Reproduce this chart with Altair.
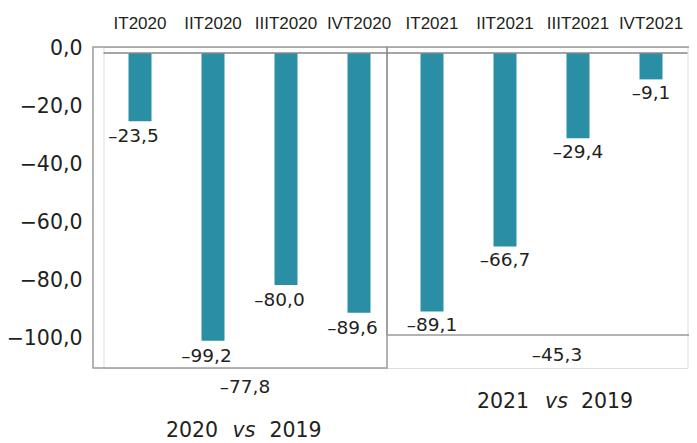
import altair as alt
import pandas as pd

quarters = ["IT2020", "IIT2020", "IIIT2020", "IVT2020",
            "IT2021", "IIT2021", "IIIT2021", "IVT2021"]
values = [-23.5, -99.2, -80.0, -89.6, -89.1, -66.7, -29.4, -9.1]
groups = ["2020", "2020", "2020", "2020", "2021", "2021", "2021", "2021"]
y_ticks = [0, -20, -40, -60, -80, -100]
annual_2020 = "–77,8"
annual_2021 = "–45,3"


def fmt(v):
    s = f"{abs(v):.1f}".replace(".", ",")
    return ("–" + s) if v < 0 else s


df = pd.DataFrame({"quarter": quarters, "value": values, "group": groups})
df["label"] = [fmt(v) for v in values]

TXT = "#231f20"
BAR = "#2a8fa4"
GRAY = "#9a9a9a"
NUMFONT = "DejaVu Sans"

x = alt.X(
    "quarter:N", sort=quarters,
    scale=alt.Scale(paddingInner=0, paddingOuter=0),
    axis=alt.Axis(orient="top", title=None, domain=False, ticks=False,
                  labelAngle=0, labelFont="Liberation Sans",
                  labelFontSize=17, labelColor=TXT, labelPadding=15),
)
y = alt.Y(
    "value:Q",
    scale=alt.Scale(domain=[-108.62, 2.07], nice=False, zero=False),
    axis=alt.Axis(values=y_ticks, title=None, domain=False, ticks=False,
                  grid=False, labelFlush=False,
                  labelExpr="replace(replace(format(datum.value, '.1f'), '.', ','), '-', '–')",
                  labelFont=NUMFONT, labelFontSize=20.5, labelColor=TXT,
                  labelPadding=21.5, labelOffset=-5),
)

one = alt.Data(values=[{}])

box_left = alt.Chart(one).mark_rect(
    fillOpacity=0, stroke=GRAY, strokeWidth=1.5
).encode(x=alt.value(-10.5), x2=alt.value(283.5), y=alt.value(0), y2=alt.value(321))

box_right = alt.Chart(one).mark_rect(
    fillOpacity=0, stroke=GRAY, strokeWidth=1.5
).encode(x=alt.value(283.5), x2=alt.value(640), y=alt.value(0), y2=alt.value(288))

base = alt.Chart(df)
bars = base.mark_bar(size=23, color=BAR).encode(x=x, y=y)

zero = alt.Chart(one).mark_rule(color="#888888", strokeWidth=1.5).encode(y=alt.datum(0))

lab20 = base.transform_filter(alt.datum.group == "2020").mark_text(
    font=NUMFONT, fontSize=18.5, color=TXT, baseline="middle", dy=15, dx=-6.5
).encode(x=x, y=y, text="label:N")
lab21 = base.transform_filter(alt.datum.group == "2021").mark_text(
    font=NUMFONT, fontSize=18.5, color=TXT, baseline="middle", dy=14
).encode(x=x, y=y, text="label:N")


def note(text, px, py, size, style="normal"):
    return alt.Chart(one).mark_text(
        text=text, font=NUMFONT, fontSize=size, color=TXT,
        baseline="middle", align="center", fontStyle=style
    ).encode(x=alt.value(px), y=alt.value(py))


notes = [
    note(annual_2020, 141.5, 340, 18.5),
    note(annual_2021, 453.5, 308, 18.5),
    note("2020", 88.5, 384, 20.5),
    note("vs", 140.5, 384, 20.5, "italic"),
    note("2019", 192, 384, 20.5),
    note("2021", 399.5, 355, 20.5),
    note("vs", 453, 355, 20.5, "italic"),
    note("2019", 503.5, 355, 20.5),
]

chart = alt.layer(box_left, box_right, bars, zero, lab20, lab21, *notes).properties(
    width=584, height=321,
    autosize=alt.AutoSizeParams(type="none"),
    padding={"left": 95.5, "top": 39, "right": 1.5, "bottom": 75},
).configure_view(stroke=None).configure(background="white")

chart.save("out.html", embed_options={"renderer": "svg", "actions": False})
